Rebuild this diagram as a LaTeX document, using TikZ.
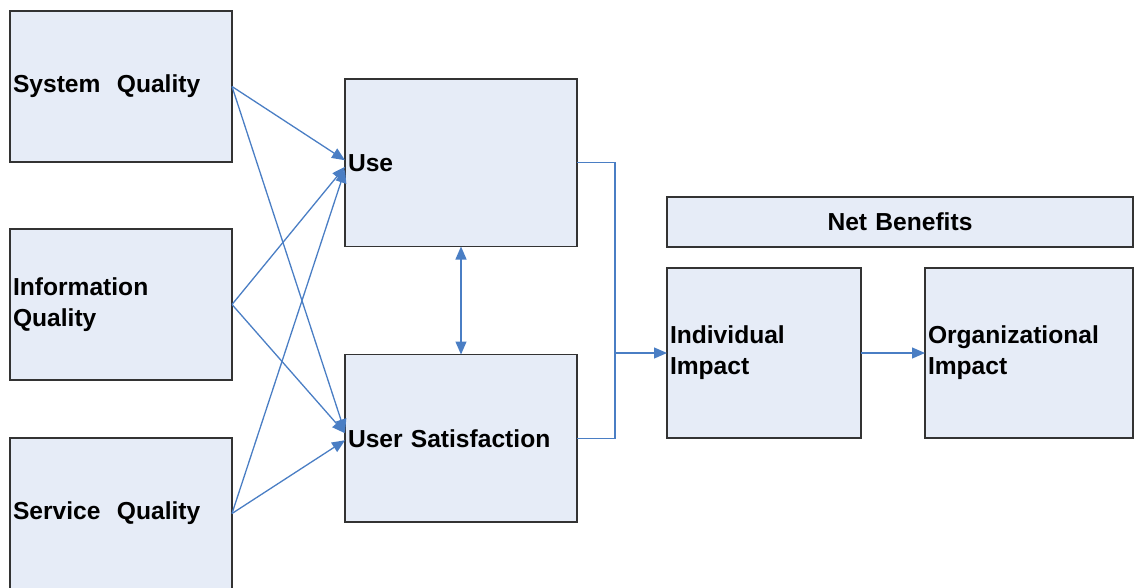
\documentclass[tikz,border=0pt]{standalone}
\usepackage{fontspec}
\setmainfont{Liberation Sans}
\usetikzlibrary{positioning,arrows.meta}
\definecolor{boxfill}{RGB}{230,236,247}
\definecolor{boxline}{RGB}{51,51,51}
\definecolor{linkblue}{RGB}{74,126,196}

\begin{document}
\begin{tikzpicture}[x=1pt,y=-1pt,
				qualitynode/.style={rectangle, draw=boxline, fill=boxfill, line width=1.4pt, outer sep=0pt, inner xsep=3pt, inner ysep=0pt, text width=216pt, minimum height=151pt, align=left, font=\bfseries\fontsize{24.6}{31}\selectfont},
				usagenode/.style={qualitynode, text width=226pt, minimum height=167.5pt},
				impactnode/.style={qualitynode, minimum height=170pt},
				headnode/.style={qualitynode, text width=460pt, minimum height=50pt, align=center},
				link/.style={draw=linkblue, line width=1.3pt},
				arrow/.style={link, -{Triangle[length=13pt,width=11pt]}},
				node distance = 60pt,
				]
				\useasboundingbox (0,0) rectangle (1136,587);
				%Nodes
				\node[qualitynode, anchor=north west](sys) at (10,11){System\ \ Quality};
				\node[qualitynode](info)[below=67pt of sys]{Information\\Quality};
				\node[qualitynode](serv)[below=58pt of info]{Service\ \ Quality};
				\node[usagenode, anchor=north west](use) at (345,79){Use};
				\node[usagenode](sat)[below=108pt of use]{User Satisfaction};
				\node[headnode, anchor=north west](net) at (667,197){Net Benefits};
				\node[impactnode, text width=188pt](ind)[below right=21pt and 0pt of net.south west]{Individual\\Impact};
				\node[impactnode, text width=202pt](org)[right=64pt of ind]{Organizational\\Impact};
				\coordinate (join) at ([xshift=-52pt]ind.west);
				
				%Lines
				\draw[arrow] (sys.east) -- ([yshift=2.5pt]use.west);
				\draw[arrow] (info.east) -- ([yshift=-4pt]use.west);
				\draw[arrow] (serv.east) -- ([yshift=-7pt]use.west);
				\draw[arrow] (sys.east) -- ([yshift=6pt]sat.west);
				\draw[arrow] (info.east) -- ([yshift=5pt]sat.west);
				\draw[arrow] (serv.east) -- ([yshift=-2pt]sat.west);
				\draw[arrow, {Triangle[length=13pt,width=11pt]}-{Triangle[length=13pt,width=11pt]}] (use.south) -- (sat.north);
				\draw[link] (use.east) -| (join);
				\draw[link] (sat.east) -| (join);
				\draw[arrow] (join) -- (ind.west);
				\draw[arrow] (ind.east) -- (org.west);
				
			\end{tikzpicture}
\end{document}
